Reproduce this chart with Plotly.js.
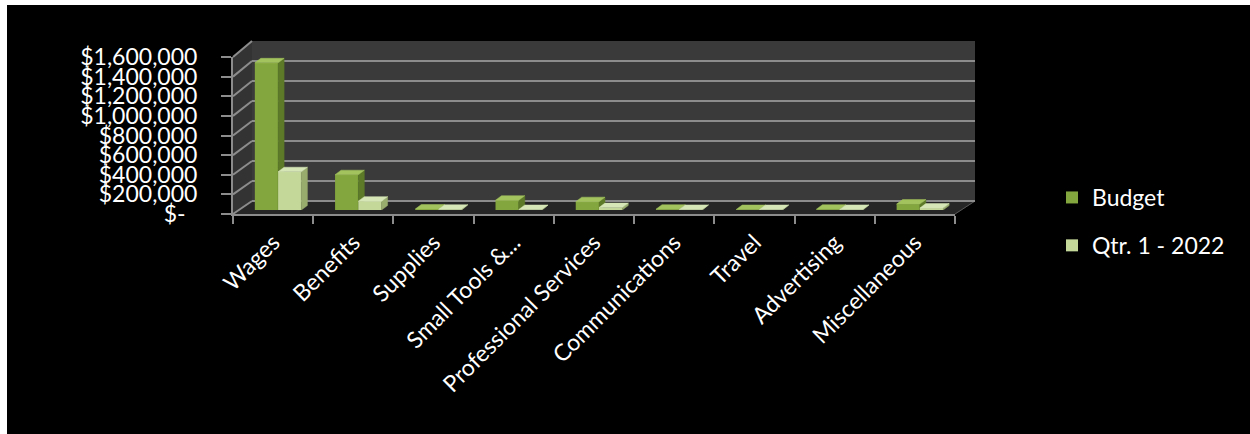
<!DOCTYPE html>
<html>
<head>
<meta charset="utf-8">
<script src="https://cdn.plot.ly/plotly-3.0.1.min.js"></script>
<style>
  html, body { margin: 0; padding: 0; background: #ffffff; }
  #chart { position: absolute; left: 7px; top: 5px; width: 1243px; height: 429px; }
</style>
</head>
<body>
<div id="chart"></div>
<script>
// ---------- data ----------
const categories = ["Wages", "Benefits", "Supplies", "Small Tools &...", "Professional Services",
                    "Communications", "Travel", "Advertising", "Miscellaneous"];
const budget   = [1500000, 360000, 10000, 100000, 85000, 8000, 5000, 8000, 60000];
const qtr1     = [390000,  90000,  8000,  5000,   25000, 6000, 5000, 6000, 20000];
const seriesNames = ["Budget", "Qtr. 1 - 2022"];
const yTickVals = [0, 200000, 400000, 600000, 800000, 1000000, 1200000, 1400000, 1600000];
const yTickText = ["$-\u00a0\u00a0", "$200,000", "$400,000", "$600,000", "$800,000",
                   "$1,000,000", "$1,200,000", "$1,400,000", "$1,600,000"];

// ---------- geometry (div px) ----------
const W = 1243, H = 429;
const L = 226, R = 968, T = 36, B = 209;
const PW = R - L, PH = B - T;
const px = x => (x - L) / PW;           // div px -> paper x
const py = y => (B - y) / PH;           // div px -> paper y
const YMAX = 1600000;

const frontX = [px(226), px(948)];
const frontY = [py(209), py(52)];
const backX  = [px(245), px(968)];
const backY  = [py(196), py(36)];
const barX   = [px(231), px(953)];
const barY0  = py(205);
const barY   = [barY0, barY0 + 157 / PH];

const idx = categories.map((c, i) => i);
const n = categories.length;
const pxPerCat = (barX[1] - barX[0]) * PW / n;
const dx = 6 / pxPerCat;
const dy = 4.5 / 157 * YMAX;
const bw = 0.29;

const grid = '#8c8c8c';
const font = 'Lato, "Open Sans", sans-serif';

function faces(vals, off) {
  const top = {x: [], y: []}, side = {x: [], y: []};
  vals.forEach((v, i) => {
    const xl = i + off, xr = i + off + bw;
    top.x.push(xl, xl + dx, xr + dx, xr, xl, null);
    top.y.push(v, v + dy, v + dy, v, v, null);
    side.x.push(xr, xr + dx, xr + dx, xr, xr, null);
    side.y.push(0, dy, v + dy, v, 0, null);
  });
  return {top, side};
}

const fb = faces(budget, -bw);
const fq = faces(qtr1, 0);

const poly = (d, color, yax) => ({
  type: 'scatter', mode: 'lines', x: d.x, y: d.y, xaxis: 'x3', yaxis: yax,
  fill: 'toself', fillcolor: color, line: {color: color, width: 0.5},
  showlegend: false, hoverinfo: 'skip'
});

// invisible carriers so that the front axes and the back wall subplot get drawn
const ghost = (xa, ya) => ({
  type: 'scatter', mode: 'markers', x: idx, y: budget, xaxis: xa, yaxis: ya,
  marker: {opacity: 0, size: 1}, showlegend: false, hoverinfo: 'skip', legendgroup: 'z'
});

const data = [
  {type: 'bar', name: seriesNames[0], x: idx, y: budget, xaxis: 'x3', yaxis: 'y3',
   width: bw, offset: -bw, marker: {color: '#84a63e', line: {width: 0}}, legendgroup: 'b'},
  poly(fb.side, '#5d7a29', 'y3'),
  poly(fb.top, '#a2c35d', 'y3'),
  {type: 'bar', name: seriesNames[1], x: idx, y: qtr1, xaxis: 'x3', yaxis: 'y4',
   width: bw, offset: 0, marker: {color: '#c4d89a', line: {width: 0}}, legendgroup: 'q'},
  poly(fq.side, '#98ac6d', 'y4'),
  poly(fq.top, '#d6e6b6', 'y4'),
  ghost('x2', 'y2'),
  ghost('x', 'y')
];

const shapes = [];
// back wall
shapes.push({type: 'rect', xref: 'paper', yref: 'paper', x0: backX[0], x1: backX[1],
  y0: backY[0], y1: backY[1], fillcolor: '#3a3a3a', line: {width: 0}, layer: 'below'});
// left wall
shapes.push({type: 'path', xref: 'paper', yref: 'paper', layer: 'below',
  path: `M${frontX[0]},${frontY[0]} L${backX[0]},${backY[0]} L${backX[0]},${backY[1]} L${frontX[0]},${frontY[1]} Z`,
  fillcolor: '#333333', line: {width: 0}});
// floor
shapes.push({type: 'path', xref: 'paper', yref: 'paper', layer: 'below',
  path: `M${frontX[0]},${frontY[0]} L${backX[0]},${backY[0]} L${backX[1]},${backY[0]} L${frontX[1]},${frontY[0]} Z`,
  fillcolor: '#262626', line: {color: '#262626', width: 1}});
// diagonal grid lines on left wall
yTickVals.forEach(v => {
  const f = frontY[0] + v / YMAX * (frontY[1] - frontY[0]);
  const b = backY[0] + v / YMAX * (backY[1] - backY[0]);
  shapes.push({type: 'line', xref: 'paper', yref: 'paper', layer: 'below',
    x0: frontX[0], y0: f, x1: backX[0], y1: b, line: {color: grid, width: 2}});
});
// floor right edge
shapes.push({type: 'line', xref: 'paper', yref: 'paper', layer: 'below',
  x0: frontX[1], y0: frontY[0], x1: backX[1], y1: backY[0], line: {color: '#555555', width: 1}});

const boundaries = [];
for (let i = 0; i <= n; i++) boundaries.push(i - 0.5);

const layout = {
  width: W, height: H,
  margin: {l: L, r: W - R, t: T, b: H - B, pad: 0},
  paper_bgcolor: '#000000',
  plot_bgcolor: 'rgba(0,0,0,0)',
  showlegend: true,
  barmode: 'overlay',
  font: {family: font, color: '#ffffff', size: 23},
  xaxis: {domain: frontX, anchor: 'y', range: [-0.5, n - 0.5], tickmode: 'array',
    tickvals: idx, ticktext: categories, tickangle: -45, ticks: '', showgrid: false,
    zeroline: false, showline: true, linecolor: grid, linewidth: 2,
    tickfont: {family: font, size: 23, color: '#ffffff'}, ticklabelstandoff: 4,
    minor: {tickmode: 'array', tickvals: boundaries, ticks: 'outside', ticklen: 8,
            tickcolor: grid, tickwidth: 2, showgrid: false},
    fixedrange: true},
  yaxis: {domain: frontY, anchor: 'x', range: [0, YMAX], tickmode: 'array',
    tickvals: yTickVals, ticktext: yTickText, ticks: 'outside', ticklen: 10,
    tickcolor: grid, tickwidth: 2, showgrid: false, zeroline: false,
    showline: true, linecolor: grid, linewidth: 2, ticklabelstandoff: 19,
    tickfont: {family: font, size: 23, color: '#ffffff'}, fixedrange: true},
  xaxis2: {domain: backX, anchor: 'y2', range: [-0.5, n - 0.5], visible: false, fixedrange: true},
  yaxis2: {domain: backY, anchor: 'x2', range: [0, YMAX], tickmode: 'array',
    tickvals: yTickVals, showticklabels: false, ticks: '', showgrid: true,
    gridcolor: grid, gridwidth: 2, zeroline: true, zerolinecolor: grid, zerolinewidth: 2,
    showline: false, fixedrange: true},
  xaxis3: {domain: barX, anchor: 'y3', range: [-0.5, n - 0.5], visible: false, fixedrange: true},
  yaxis3: {domain: barY, anchor: 'x3', range: [0, YMAX], visible: false, fixedrange: true},
  yaxis4: {overlaying: 'y3', anchor: 'x3', range: [0, YMAX], visible: false, fixedrange: true},
  legend: {xref: 'container', yref: 'container', x: 1045 / W, y: 1 - 171 / H,
    xanchor: 'left', yanchor: 'top', bgcolor: 'rgba(0,0,0,0)',
    font: {family: font, size: 23, color: '#ffffff'}, tracegroupgap: 15, traceorder: 'grouped'},
  shapes: shapes
};

Plotly.newPlot('chart', data, layout, {staticPlot: true, displayModeBar: false});
</script>
</body>
</html>
